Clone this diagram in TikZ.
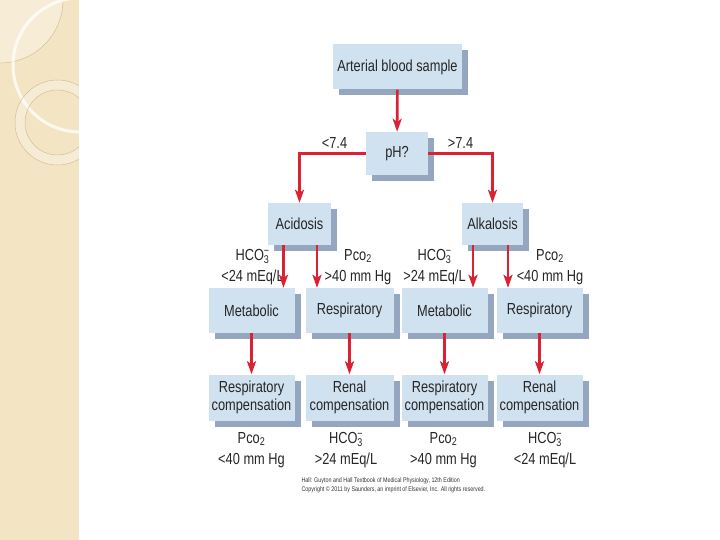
\documentclass[tikz,border=0pt]{standalone}
\usepackage{fontspec}
\setmainfont{Liberation Sans}[FakeStretch=0.8]
\usetikzlibrary{arrows.meta,shadows}
\definecolor{boxblue}{HTML}{D0E1F0}
\definecolor{shadeblue}{HTML}{95A6BF}
\definecolor{arrowred}{HTML}{DA2233}
\definecolor{stripbeige}{HTML}{F3E4C3}
\definecolor{stripline}{HTML}{D2BE96}
\newcommand{\hcoiii}{HCO\rlap{\textsuperscript{−}}\textsubscript{3}}
\newcommand{\pcoii}{Pco\textsubscript{2}}

\begin{document}
\begin{tikzpicture}[x=1pt,y=-1pt,
  every node/.style={font=\fontsize{16}{18}\selectfont,text=black!85},
  box/.style={fill=boxblue,inner sep=2pt,minimum height=45pt,align=center,
    drop shadow={shadow xshift=6pt,shadow yshift=-6pt,fill=shadeblue,opacity=1}},
  colbox/.style={box,minimum width=86pt},
  lbl/.style={align=center,font=\fontsize{16}{21}\selectfont},
  arr/.style={arrowred,line width=2.6pt,-{Stealth[length=13pt,width=9pt,inset=3pt]}}]
  \useasboundingbox (0,0) rectangle (720,540);
  % left strip
  \fill[stripbeige] (0,0) rectangle (79,540);
  \begin{scope}
    \clip (0,0) rectangle (79,540);
    \fill[white,opacity=0.35] (0,0) circle (63);
    \draw[stripline,line width=0.5pt] (0,0) circle (63);
    \draw[white,opacity=0.75,line width=3pt] (80,65) circle (67);
    \fill[white,opacity=0.3,even odd rule] (57.5,122.5) circle (42.5) (57.5,122.5) circle (32.5);
    \draw[stripline,line width=0.5pt] (57.5,122.5) circle (42.5) (57.5,122.5) circle (32.5);
  \end{scope}

  % boxes
  \node[box,minimum width=129pt] (sample) at (397.5,67) {Arterial blood sample};
  \node[box,minimum width=62pt,minimum height=43pt] (ph) at (397,153.5) {pH?};
  \node[box,minimum width=63pt,minimum height=42pt] (acid) at (299.5,224) {Acidosis};
  \node[box,minimum width=61pt,minimum height=42pt] (alk) at (492.5,224) {Alkalosis};
  \node[colbox] (met1) at (251.5,310.5) {Metabolic};
  \node[colbox,minimum width=88pt] (resp1) at (349.5,310.5) {Respiratory};
  \node[colbox] (met2) at (444.5,310.5) {Metabolic};
  \node[colbox] (resp2) at (539.5,310.5) {Respiratory};
  \node[colbox,minimum height=46pt] (comp1) at (251.5,397.5) {Respiratory\\compensation};
  \node[colbox,minimum height=46pt,minimum width=88pt] (comp2) at (349.5,397.5) {Renal\\compensation};
  \node[colbox,minimum height=46pt] (comp3) at (444.5,397.5) {Respiratory\\compensation};
  \node[colbox,minimum height=46pt] (comp4) at (539.5,397.5) {Renal\\compensation};

  % labels
  \node (lo) at (334.5,143) {<7.4};
  \node (hi) at (460.5,143) {>7.4};
  \node[lbl] (acidl) at (252.5,267) {\hcoiii\\<24 mEq/L};
  \node[lbl] (acidr) at (358,267) {\pcoii\\>40 mm Hg};
  \node[lbl] (alkl) at (434.5,267) {\hcoiii\\>24 mEq/L};
  \node[lbl] (alkr) at (550,267) {\pcoii\\<40 mm Hg};
  \node[lbl] (out1) at (251.5,450) {\pcoii\\<40 mm Hg};
  \node[lbl] (out2) at (346,450) {\hcoiii\\>24 mEq/L};
  \node[lbl] (out3) at (443.5,450) {\pcoii\\>40 mm Hg};
  \node[lbl] (out4) at (545,450) {\hcoiii\\<24 mEq/L};
  \node[anchor=west,font=\fontsize{6.7}{8.8}\selectfont,align=left,text=black!80] (credit) at (298,485)
    {Hall: Guyton and Hall Textbook of Medical Physiology, 12th Edition\\
     Copyright © 2011 by Saunders, an imprint of Elsevier, Inc. All rights reserved.};

  % arrows
  \draw[arr] (sample) -- (ph);
  \draw[arr] (ph.west) -| (acid.north);
  \draw[arr] (ph.east) -| (alk.north);
  \draw[arr] ([xshift=-16pt]acid.south) -- ([xshift=-16pt]acid.south |- met1.north);
  \draw[arr] ([xshift=17.5pt]acid.south) -- ([xshift=17.5pt]acid.south |- resp1.north);
  \draw[arr] ([xshift=-19.5pt]alk.south) -- ([xshift=-19.5pt]alk.south |- met2.north);
  \draw[arr] ([xshift=15.5pt]alk.south) -- ([xshift=15.5pt]alk.south |- resp2.north);
  \draw[arr] (met1) -- (comp1);
  \draw[arr] (resp1) -- (comp2);
  \draw[arr] (met2) -- (comp3);
  \draw[arr] (resp2) -- (comp4);
\end{tikzpicture}
\end{document}
